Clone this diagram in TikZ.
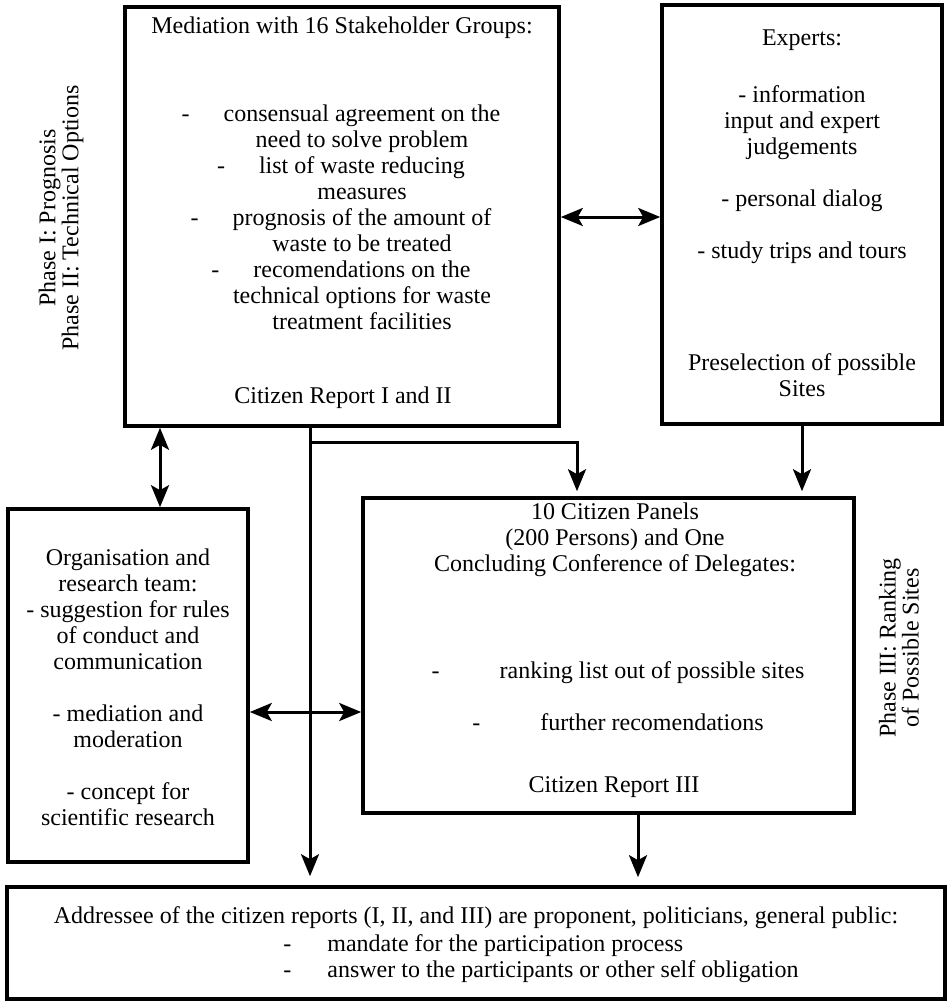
\documentclass[tikz,border=0pt]{standalone}
\usepackage{fontspec}
\setmainfont{Liberation Serif}
\usetikzlibrary{positioning, calc}
\usetikzlibrary{arrows.meta}

\begin{document}
\begin{tikzpicture}[x=0.5pt,y=-0.5pt,draw=black!100]
	\def \rowmed{216.5}
	\def \rowpan{655.5}
	\def \rowcd{712}
	\def \rowbranch{442}
	\def \itemdash#1{\llap{-\hspace{#1}}}
	\tikzstyle{box-node}=[rectangle,draw=black!100,line width=1.8pt,inner sep=0pt]
	\tikzstyle{t-node}=[align=center,inner sep=0pt,font=\fontsize{12}{13}\selectfont]
	\tikzstyle{ph-lbl}=[align=center,inner sep=0pt,rotate=90,font=\fontsize{12}{11.5}\selectfont]
	\tikzstyle{arr}=[line width=1.5pt,-{Stealth[length=11pt,width=9pt,inset=2.5pt]}]
	\tikzstyle{dbl-arr}=[line width=1.5pt,{Stealth[length=11pt,width=9pt,inset=2.5pt]}-{Stealth[length=11pt,width=9pt,inset=2.5pt]}]
	\useasboundingbox (0,0) rectangle (950,1001);

	% boxes
	\node[box-node,minimum width=217pt,minimum height=209.5pt] (med) at (342,\rowmed) {};
	\node[box-node,minimum width=140pt,minimum height=209.5pt] (exp) at (802,214.5) {};
	\node[box-node,minimum width=120pt,minimum height=176.5pt] (org) at (128,685.5) {};
	\node[box-node,minimum width=245.5pt,minimum height=157.5pt] (pan) at (608.5,\rowpan) {};
	\node[box-node,minimum width=469pt,minimum height=56pt] (adr) at (476,943) {};

	% mediation
	\node[t-node] (medttl) at (342,28) {Mediation with 16 Stakeholder Groups:};
	\node[t-node] (meditm) at (362,217) {\itemdash{17pt}consensual agreement on the\\need to solve problem\\\itemdash{17pt}list of waste reducing\\measures\\\itemdash{17pt}prognosis of the amount of\\waste to be treated\\\itemdash{17pt}recomendations on the\\technical options for waste\\treatment facilities};
	\node[t-node] (medrep) at (343,398) {Citizen Report I and II};

	% experts
	\node[t-node] (expttl) at (802,40) {Experts:};
	\node[t-node] (expitm) at (802,175) {- information\\input and expert\\judgements\\[13pt]- personal dialog\\[13pt]- study trips and tours};
	\node[t-node] (exppre) at (802,375) {Preselection of possible\\Sites};

	% organisation
	\node[t-node] (orgtxt) at (128,687) {Organisation and\\research team:\\- suggestion for rules\\of conduct and\\communication\\[13pt]- mediation and\\moderation\\[13pt]- concept for\\scientific research};

	% citizen panels
	\node[t-node] (panttl) at (615,540) {10 Citizen Panels\\(200 Persons) and One\\Concluding Conference of Delegates:};
	\node[t-node] (panitm) at (652,696.5) {\itemdash{30pt}ranking list out of possible sites\\[13pt]\itemdash{30pt}further recomendations};
	\node[t-node] (panrep) at (614,787) {Citizen Report III};

	% addressees
	\node[t-node] (adrttl) at (476,918) {Addressee of the citizen reports (I, II, and III) are proponent, politicians, general public:};
	\node[t-node,align=left,anchor=west] (adritm) at (327,958.5) {\itemdash{18pt}mandate for the participation process\\\itemdash{18pt}answer to the participants or other self obligation};

	% phases
	\node[ph-lbl] (ph12) at (61,218) {Phase I: Prognosis\\Phase II: Technical Options};
	\node[ph-lbl] (ph3) at (899,648) {Phase III: Ranking\\of Possible Sites};

	% connectors
	\coordinate (colorg) at (160,0);
	\coordinate (colrep) at (310,0);
	\coordinate (colbr) at (577,0);
	\coordinate (colpan) at (638,0);
	\coordinate (rowcd) at (0,\rowcd);
	\coordinate (rowbr) at (0,\rowbranch);
	\draw[dbl-arr] (med.east |- 0,217) -- (exp.west |- 0,217);
	\draw[dbl-arr] (colorg |- med.south) -- (colorg |- org.north);
	\draw[dbl-arr] (org.east |- rowcd) -- (pan.west |- rowcd);
	\draw[arr,shorten >=4.5pt] (colrep |- med.south) -- (colrep |- adr.north);
	\draw[arr,shorten >=2.5pt] (colrep |- rowbr) -| (colbr |- pan.north);
	\draw[arr,shorten >=2.5pt] (exp.south) -- (exp.south |- pan.north);
	\draw[arr,shorten >=4pt] (colpan |- pan.south) -- (colpan |- adr.north);
\end{tikzpicture}
\end{document}
